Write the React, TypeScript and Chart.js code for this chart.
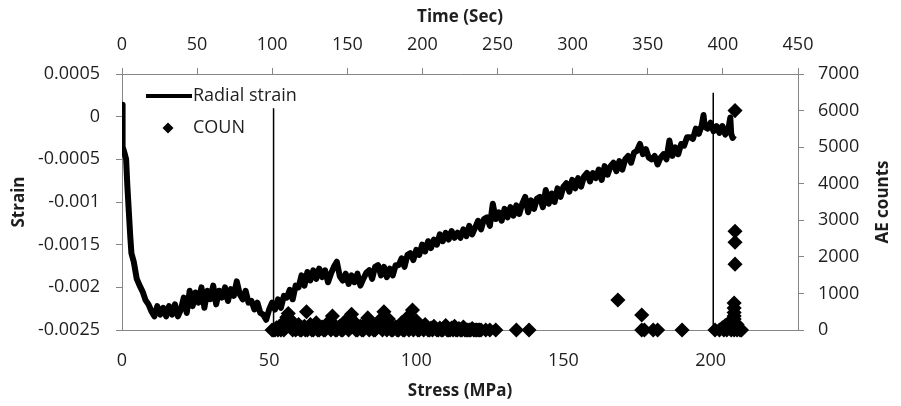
import { useEffect, useRef } from "react";
import { Chart, registerables } from "chart.js";

Chart.register(...registerables);

// ---------- data ----------
const STRESS_MPA = [
  0, 0.1, 0.3, 0.8, 1.4, 1.8, 2.3, 2.8, 3.2, 4, 5, 6,
  7, 8, 9, 10, 11, 12, 13, 14, 15, 16,
  17, 18, 19, 20, 21, 22, 23, 24, 25, 26,
  27, 28, 29, 30, 31, 32, 33, 34, 35, 36,
  37, 38, 39, 40, 41, 42, 43, 44, 45, 46,
  47, 48, 49, 50, 51, 52, 53, 54, 55, 56,
  57, 58, 59, 60, 61, 62, 63, 64, 65, 66,
  67, 68, 69, 70, 71, 72, 73, 74, 75, 76,
  77, 78, 79, 80, 81, 82, 83, 84, 85, 86,
  87, 88, 89, 90, 91, 92, 93, 94, 95, 96,
  97, 98, 99, 100, 101, 102, 103, 104, 105, 106,
  107, 108, 109, 110, 111, 112, 113, 114, 115, 116,
  117, 118, 119, 120, 121, 122, 123, 124, 125, 126,
  127, 128, 129, 130, 131, 132, 133, 134, 135, 136,
  137, 138, 139, 140, 141, 142, 143, 144, 145, 146,
  147, 148, 149, 150, 151, 152, 153, 154, 155, 156,
  157, 158, 159, 160, 161, 162, 163, 164, 165, 166,
  167, 168, 169, 170, 171, 172, 173, 174, 175, 176,
  177, 178, 179, 180, 181, 182, 183, 184, 185, 186,
  187, 188, 189, 190, 191, 192, 193, 194, 195, 196,
  197, 197.6, 198, 199, 200, 201, 202, 203, 204, 205, 206,
  206.7, 207, 207.5, 208,
];

const RADIAL_STRAIN = [
  0.00014, -0.0001, -0.00035, -0.00042, -0.0005, -0.0008, -0.0011, -0.0014, -0.0016, -0.0017, -0.0019, -0.00198,
  -0.00205, -0.00215, -0.0022, -0.00228, -0.00234, -0.00222, -0.00232, -0.00224, -0.00234, -0.00222,
  -0.00232, -0.0022, -0.00234, -0.00226, -0.00212, -0.0023, -0.00204, -0.00222, -0.00206, -0.00218,
  -0.002, -0.00224, -0.00204, -0.00214, -0.00198, -0.0022, -0.00204, -0.00212, -0.002, -0.00216,
  -0.00202, -0.0021, -0.00193, -0.00208, -0.00214, -0.00204, -0.00218, -0.00216, -0.00226, -0.00218,
  -0.0023, -0.00232, -0.00238, -0.00226, -0.00218, -0.00226, -0.00214, -0.00224, -0.0021, -0.00212,
  -0.00203, -0.00214, -0.00198, -0.002, -0.00186, -0.00198, -0.00182, -0.00192, -0.0018, -0.0019,
  -0.00178, -0.00188, -0.0018, -0.00194, -0.00184, -0.00176, -0.0017, -0.00187, -0.00192, -0.00184,
  -0.00196, -0.00186, -0.00194, -0.00184, -0.00198, -0.0019, -0.00183, -0.0018, -0.0019, -0.00176,
  -0.00174, -0.00186, -0.00176, -0.00188, -0.00178, -0.00186, -0.00174, -0.00174, -0.00166, -0.00176,
  -0.00162, -0.0016, -0.00168, -0.00156, -0.00162, -0.0015, -0.00158, -0.00146, -0.00154, -0.00144,
  -0.0015, -0.00138, -0.00146, -0.00136, -0.00144, -0.00134, -0.00142, -0.00136, -0.00142, -0.00132,
  -0.0014, -0.00128, -0.00138, -0.0013, -0.00122, -0.00132, -0.0012, -0.00118, -0.00128, -0.00102,
  -0.0012, -0.00112, -0.00122, -0.00108, -0.00118, -0.00106, -0.00116, -0.00104, -0.00114, -0.00102,
  -0.00094, -0.00112, -0.00098, -0.00108, -0.00096, -0.00094, -0.00106, -0.00086, -0.00102, -0.0009,
  -0.001, -0.00084, -0.00094, -0.00082, -0.00078, -0.00088, -0.00074, -0.00084, -0.00072, -0.00082,
  -0.0007, -0.00066, -0.00076, -0.00066, -0.00072, -0.00062, -0.00074, -0.00058, -0.00068, -0.00058,
  -0.00054, -0.00064, -0.00052, -0.00062, -0.0005, -0.00046, -0.00054, -0.00042, -0.0004, -0.00032,
  -0.00044, -0.00038, -0.00048, -0.0005, -0.00046, -0.00056, -0.00048, -0.00044, -0.0005, -0.00028,
  -0.00046, -0.00036, -0.00044, -0.00032, -0.00034, -0.00024, -0.00024, -0.00026, -0.00014, -0.0002,
  -0.0001, 0.00002, -0.00012, -0.00014, -0.00007, -0.00017, -0.00011, -0.00019, -0.00011, -0.00021, -0.00015,
  -0.00001, -0.0002, -0.00025, -0.00022,
];

const COUN_STRESS = [
  51, 51.5, 52, 52.5, 53, 53.5, 54, 54.5, 55, 55.5, 56, 56.5, 57, 57.5, 58, 58.5, 59, 60, 61, 62,
  62.7, 63, 64, 65, 66, 67, 68, 69, 70, 71, 71.5, 72, 73, 74, 75, 76, 77, 78, 79, 80,
  81, 82, 83, 83.5, 84, 85, 86, 87, 88, 89, 89.5, 90, 90.5, 91, 92, 93, 94, 95, 96, 97,
  98, 98.7, 99, 100, 101, 102, 103, 104, 105, 106, 107, 108, 109, 110, 111, 112, 113, 114, 115, 116,
  117, 118, 119, 120, 121, 122, 123.6, 125, 127, 134, 138.3,
  59.5, 60.5, 61.5, 62.3, 63.5, 64.5, 65.5, 66.5, 67.5, 68.5, 69.5, 70.5, 72.5, 73.5, 74.5, 75.5,
  76.5, 77.5, 78.5, 79.5, 80.5, 81.5, 82.5, 84.5, 85.5, 86.5, 87.5, 88.5, 91.5, 92.5, 93.5, 94.5,
  95.5, 96.5, 97.5, 99.5, 100.5, 101.5, 102.5, 103.5, 104.5, 105.5, 106.5, 107.5, 108.5, 109.5,
  110.5, 111.5, 112.5, 113.5, 114.5, 115.5, 116.5, 117.5, 118.5, 119.5, 120.5, 121.5,
  168.5, 176.6, 176.6, 177.5, 180.5, 182, 190.3,
  201.5, 203, 204, 204.5, 205, 205.5, 206, 206.5, 207, 207.5,
  208, 208, 208, 208, 208, 208, 208, 208, 208.3, 208.3, 208.3, 208.3,
  209, 209, 209.5, 210, 210.5,
];

const COUN_COUNTS = [
  0, 0, 0, 60, 0, 100, 0, 150, 0, 250, 350, 450, 300, 150, 0, 80, 0, 150, 0, 100,
  500, 0, 150, 0, 200, 0, 80, 0, 200, 0, 380, 150, 0, 100, 0, 250, 0, 430, 200, 0,
  100, 0, 200, 330, 0, 150, 0, 100, 300, 500, 350, 0, 300, 100, 0, 80, 0, 200, 0, 350,
  250, 546, 0, 250, 0, 80, 150, 0, 50, 100, 0, 50, 0, 120, 0, 50, 100, 0, 0, 80,
  0, 0, 40, 0, 0, 0, 0, 0, 0, 0, 0,
  40, 0, 60, 0, 50, 0, 60, 0, 40, 0, 60, 100, 0, 60, 0, 80,
  100, 150, 250, 0, 60, 0, 100, 60, 0, 60, 150, 0, 0, 60, 0, 100,
  0, 150, 0, 60, 0, 40, 0, 60, 0, 0, 40, 0, 0, 60,
  0, 0, 0, 0, 40, 0, 0, 0, 0, 0, 0, 0,
  820, 410, 0, 0, 0, 0, 0,
  0, 0, 60, 0, 120, 0, 180, 80, 0, 250,
  740, 600, 480, 380, 300, 200, 100, 0, 1800, 2400, 2700, 6000,
  150, 0, 60, 0, 0,
];

// stress positions of the two vertical marker lines and their upper strain ends
const MARKER_STRESS = [51.5, 200.9];
const MARKER_TOP = [0.0001, 0.00028];

const STRESS_MIN = 0;
const STRESS_MAX = 229.7;
const STRESS_STEP = 50;
const TIME_MIN = 0;
const TIME_MAX = 450;
const TIME_STEP = 50;
const STRAIN_MIN = -0.0025;
const STRAIN_MAX = 0.0005;
const STRAIN_STEP = 0.0005;
const AE_MIN = 0;
const AE_MAX = 7000;
const AE_STEP = 1000;

const X_TITLE = "Stress (MPa)";
const X2_TITLE = "Time (Sec)";
const Y_TITLE = "Strain";
const Y2_TITLE = "AE counts";
const SERIES_LINE = "Radial strain";
const SERIES_POINTS = "COUN";

// ---------- styles ----------
const FONT_FAMILY = '"Open Sans", "Liberation Sans", sans-serif';
const TEXT_COLOR = "#1e1e1e";
const AXIS_COLOR = "#868686";

const overlayPlugin = {
  id: "overlay",
  afterDraw(chart: any) {
    const { ctx, chartArea } = chart;
    const cx = (chartArea.left + chartArea.right) / 2;
    const cy = (chartArea.top + chartArea.bottom) / 2;
    ctx.save();
    ctx.fillStyle = TEXT_COLOR;
    ctx.font = `bold 17px ${FONT_FAMILY}`;
    ctx.textAlign = "center";
    ctx.textBaseline = "middle";
    ctx.fillText(X2_TITLE, cx, 17);
    ctx.fillText(X_TITLE, cx, 391);

    ctx.save();
    ctx.translate(19, cy);
    ctx.rotate(-Math.PI / 2);
    ctx.fillText(Y_TITLE, 0, 0);
    ctx.restore();

    ctx.save();
    ctx.translate(883, cy);
    ctx.rotate(-Math.PI / 2);
    ctx.fillText(Y2_TITLE, 0, 0);
    ctx.restore();

    // legend
    const lx = chartArea.left + 24;
    const ly1 = chartArea.top + 22;
    const ly2 = chartArea.top + 54;
    ctx.strokeStyle = "#000";
    ctx.lineWidth = 4;
    ctx.beginPath();
    ctx.moveTo(lx, ly1);
    ctx.lineTo(lx + 46, ly1);
    ctx.stroke();
    ctx.fillStyle = "#000";
    ctx.beginPath();
    const dx = lx + 22;
    ctx.moveTo(dx, ly2 - 5.5);
    ctx.lineTo(dx + 5.5, ly2);
    ctx.lineTo(dx, ly2 + 5.5);
    ctx.lineTo(dx - 5.5, ly2);
    ctx.closePath();
    ctx.fill();
    ctx.fillStyle = TEXT_COLOR;
    ctx.font = `18px ${FONT_FAMILY}`;
    ctx.textAlign = "left";
    ctx.fillText(SERIES_LINE, lx + 47, ly1);
    ctx.fillText(SERIES_POINTS, lx + 47, ly2);
    ctx.restore();
  },
};

export default function App() {
  const ref = useRef<HTMLCanvasElement>(null);

  useEffect(() => {
    document.body.style.margin = "0";
    const canvas = ref.current;
    if (!canvas) return;

    const linePoints = STRESS_MPA.map((x, i) => ({ x, y: RADIAL_STRAIN[i] }));
    const countPoints = COUN_STRESS.map((x, i) => ({ x, y: COUN_COUNTS[i] }));
    const markerSets = MARKER_STRESS.map((x, i) => ({
      label: "marker" + i,
      data: [
        { x, y: MARKER_TOP[i] },
        { x, y: STRAIN_MIN },
      ],
      showLine: true,
      borderColor: "#000",
      borderWidth: 1.5,
      pointRadius: 0,
      xAxisID: "x",
      yAxisID: "y",
    }));

    const tickFont = { family: FONT_FAMILY, size: 18 };

    const chart = new Chart(canvas, {
      type: "scatter",
      data: {
        datasets: [
          {
            label: SERIES_POINTS,
            data: countPoints,
            pointStyle: "rectRot",
            pointRadius: 6.5,
            backgroundColor: "#000",
            borderColor: "#000",
            borderWidth: 1.5,
            xAxisID: "x",
            yAxisID: "y2",
            clip: false,
          } as any,
          {
            label: SERIES_LINE,
            data: linePoints,
            showLine: true,
            borderColor: "#000",
            borderWidth: 6,
            borderJoinStyle: "round",
            pointRadius: 0,
            tension: 0,
            xAxisID: "x",
            yAxisID: "y",
          } as any,
          ...(markerSets as any[]),
        ],
      },
      options: {
        responsive: false,
        animation: false,
        layout: { padding: 0 },
        plugins: {
          legend: { display: false },
          tooltip: { enabled: false },
        },
        scales: {
          x: {
            type: "linear",
            position: "bottom",
            min: STRESS_MIN,
            max: STRESS_MAX,
            ticks: {
              stepSize: STRESS_STEP,
              includeBounds: false,
              padding: 20,
              font: tickFont,
              color: TEXT_COLOR,
              maxRotation: 0,
              callback: (v: any) => String(v),
            },
            grid: { drawOnChartArea: false, drawTicks: false },
            border: { color: AXIS_COLOR, width: 1 },
            afterFit: (s: any) => {
              s.height = 76;
            },
          },
          x2: {
            type: "linear",
            position: "top",
            min: TIME_MIN,
            max: TIME_MAX,
            ticks: {
              stepSize: TIME_STEP,
              padding: 12,
              font: tickFont,
              color: TEXT_COLOR,
              maxRotation: 0,
              callback: (v: any) => String(v),
            },
            grid: { drawOnChartArea: false, tickLength: 6, color: AXIS_COLOR },
            border: { color: AXIS_COLOR, width: 1 },
            afterFit: (s: any) => {
              s.height = 74;
            },
          },
          y: {
            type: "linear",
            position: "left",
            min: STRAIN_MIN,
            max: STRAIN_MAX,
            ticks: {
              stepSize: STRAIN_STEP,
              padding: 16,
              font: tickFont,
              color: TEXT_COLOR,
              callback: (v: any) => String(Number(Number(v).toFixed(4))),
            },
            grid: { drawOnChartArea: false, tickLength: 6, color: AXIS_COLOR },
            border: { color: AXIS_COLOR, width: 1 },
            afterFit: (s: any) => {
              s.width = 122;
            },
          },
          y2: {
            type: "linear",
            position: "right",
            min: AE_MIN,
            max: AE_MAX,
            ticks: {
              stepSize: AE_STEP,
              padding: 14,
              font: tickFont,
              color: TEXT_COLOR,
              callback: (v: any) => String(v),
            },
            grid: { drawOnChartArea: false, tickLength: 6, color: AXIS_COLOR },
            border: { color: AXIS_COLOR, width: 1 },
            afterFit: (s: any) => {
              s.width = 103;
            },
          },
        },
      } as any,
      plugins: [overlayPlugin],
    });

    return () => chart.destroy();
  }, []);

  return (
    <div style={{ position: "absolute", left: 0, top: 0, width: 901, height: 406 }}>
      <canvas ref={ref} width={901} height={406} />
    </div>
  );
}
